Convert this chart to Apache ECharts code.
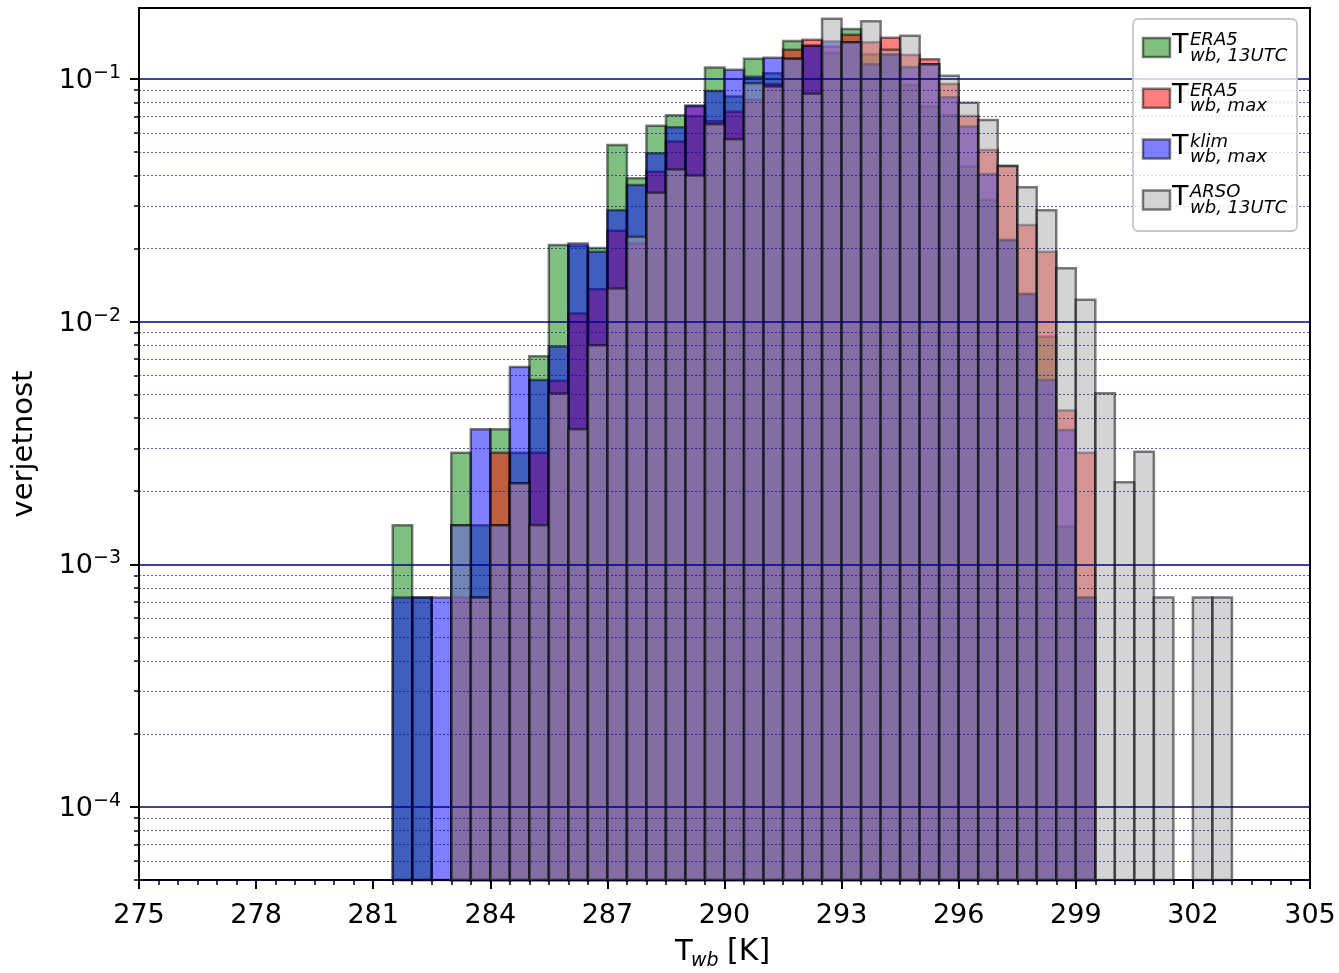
<!DOCTYPE html>
<html>
<head>
<meta charset="utf-8">
<script src="https://cdn.jsdelivr.net/npm/echarts@6/dist/echarts.min.js"></script>
<style>
  html, body { margin: 0; padding: 0; background: #fff; }
  #main { width: 1339px; height: 973px; }
</style>
</head>
<body>
<div id="main"></div>
<script>
// bin edges of the histogram [K], 0.5 K wide
var binEdges = [281.5, 282, 282.5, 283, 283.5, 284, 284.5, 285, 285.5, 286, 286.5,
    287, 287.5, 288, 288.5, 289, 289.5, 290, 290.5, 291, 291.5, 292, 292.5,
    293, 293.5, 294, 294.5, 295, 295.5, 296, 296.5, 297, 297.5, 298, 298.5,
    299, 299.5, 300, 300.5, 301, 301.5, 302, 302.5, 303];

// probability density per bin
var era5_13utc = [0.00145, 0.00073, 0, 0.00288, 0.00145, 0.0036, 0.00288, 0.0072, 0.0207, 0.0205, 0.0201,
    0.0534, 0.039, 0.0642, 0.0709, 0.0704, 0.1114, 0.0846, 0.121, 0.1055, 0.1435, 0.137, 0.128,
    0.1607, 0.1264, 0.126, 0.0945, 0.077, 0.071, 0.0436, 0.0317, 0.0217, 0.013, 0.00867, 0.00143,
    0.00073, 0, 0, 0, 0, 0, 0, 0];
var era5_max = [0, 0, 0, 0.00073, 0.00073, 0.00288, 0.00216, 0.00288, 0.0057, 0.0108, 0.0136,
    0.0237, 0.021, 0.0415, 0.0552, 0.0772, 0.067, 0.0733, 0.082, 0.095, 0.132, 0.145, 0.136,
    0.152, 0.1417, 0.148, 0.1256, 0.1205, 0.0954, 0.0704, 0.051, 0.0438, 0.025, 0.0194, 0.0043,
    0.00288, 0, 0, 0, 0, 0, 0, 0];
var klim_max = [0.00073, 0.00073, 0.00073, 0.00145, 0.0036, 0.00145, 0.0065, 0.00575, 0.0079, 0.021, 0.0194,
    0.0288, 0.0366, 0.0494, 0.0632, 0.0777, 0.0893, 0.109, 0.102, 0.1224, 0.121, 0.137, 0.1426,
    0.1417, 0.115, 0.126, 0.112, 0.115, 0.084, 0.0637, 0.0406, 0.0217, 0.013, 0.00575, 0.00358,
    0.00073, 0, 0, 0, 0, 0, 0, 0];
var arso_13utc = [0, 0, 0, 0.00145, 0.00073, 0.00145, 0.00216, 0.00145, 0.00505, 0.0036, 0.008,
    0.0137, 0.0224, 0.034, 0.0424, 0.040, 0.065, 0.0564, 0.096, 0.093, 0.121, 0.0868, 0.177,
    0.1417, 0.173, 0.132, 0.1507, 0.115, 0.103, 0.0798, 0.0678, 0.0438, 0.0358, 0.0288, 0.0166,
    0.0123, 0.00507, 0.00218, 0.00291, 0.00073, 0, 0.00073, 0.00073];

var xTicks = [275, 305, 3];
var yMajor = [-4, -3, -2, -1];   // log10 of 1e-4 .. 1e-1
var Y_MIN = Math.log10(5e-5);
var Y_MAX = -0.7076;

var legendSup = ['ERA5', 'ERA5', 'klim', 'ARSO'];
var legendSub = ['wb, 13UTC', 'wb, max', 'wb, max', 'wb, 13UTC'];
var colors = ['#008000', '#ff0000', '#0000ff', '#a9a9a9'];
var FONT = '"DejaVu Sans", sans-serif';

var yMinor = [];
for (var n = -5; n <= -1; n++) {
    for (var k = 2; k <= 9; k++) {
        var lv = Math.log10(k) + n;
        if (lv >= Y_MIN - 1e-9 && lv <= Y_MAX) yMinor.push(lv);
    }
}

function toData(vals) {
    var out = [];
    for (var i = 0; i < vals.length; i++) {
        if (vals[i] > 0) out.push([binEdges[i], binEdges[i + 1], Math.log10(vals[i])]);
    }
    return out;
}

function histSeries(name, vals, color) {
    return {
        name: name,
        type: 'custom',
        data: toData(vals),
        encode: {x: [0, 1], y: 2},
        renderItem: function (params, api) {
            var tl = api.coord([api.value(0), api.value(2)]);
            var br = api.coord([api.value(1), Y_MIN]);
            return {
                type: 'rect',
                shape: {x: tl[0], y: tl[1], width: br[0] - tl[0], height: br[1] - tl[1]},
                style: {fill: color, stroke: '#000', lineWidth: 2.5, opacity: 0.5}
            };
        }
    };
}

// legend box + x axis title built as text
var graphics = [{
    type: 'rect', z: 100,
    shape: {x: 1133, y: 19, width: 164, height: 212, r: 5},
    style: {fill: 'rgba(255,255,255,0.8)', stroke: '#c8c8c8', lineWidth: 1.8}
}];
for (var e = 0; e < 4; e++) {
    var dy = e * 50.8;
    graphics.push({
        type: 'rect', z: 101,
        shape: {x: 1143, y: 38 + dy, width: 27, height: 19},
        style: {fill: colors[e], stroke: '#000', lineWidth: 2.5, opacity: 0.5}
    });
    graphics.push({type: 'text', z: 101, x: 1172, y: 45.5 + dy,
        style: {text: 'T', font: '27px ' + FONT, fill: '#000', verticalAlign: 'middle'}});
    graphics.push({type: 'text', z: 101, x: 1190, y: 40.3 + dy,
        style: {text: legendSup[e], font: 'italic 18px ' + FONT, fill: '#000', verticalAlign: 'middle'}});
    graphics.push({type: 'text', z: 101, x: 1190, y: 56 + dy,
        style: {text: legendSub[e], font: 'italic 18px ' + FONT, fill: '#000', verticalAlign: 'middle'}});
}
graphics.push({type: 'text', x: 675, y: 952,
    style: {text: 'T', font: '29px ' + FONT, fill: '#000', verticalAlign: 'middle'}});
graphics.push({type: 'text', x: 691, y: 961,
    style: {text: 'wb', font: 'italic 19px ' + FONT, fill: '#000', verticalAlign: 'middle'}});
graphics.push({type: 'text', x: 727, y: 952,
    style: {text: '[K]', font: '30px ' + FONT, fill: '#000', verticalAlign: 'middle'}});

var myChart = echarts.init(document.getElementById('main'));
myChart.setOption({
    backgroundColor: '#fff',
    animation: false,
    grid: {
        left: 139, right: 29, top: 8, bottom: 93,
        show: true, borderColor: '#000', borderWidth: 2, backgroundColor: 'transparent'
    },
    xAxis: {
        type: 'value',
        min: xTicks[0], max: xTicks[1], interval: xTicks[2],
        axisLine: {onZero: false, lineStyle: {color: '#000', width: 2}},
        axisTick: {length: 9, lineStyle: {color: '#000', width: 2}},
        minorTick: {show: true, splitNumber: 6, length: 5, lineStyle: {color: '#000', width: 1.5}},
        axisLabel: {fontSize: 27, fontFamily: FONT, color: '#000', margin: 22},
        splitLine: {show: false}
    },
    yAxis: [{
        type: 'value',
        min: Y_MIN, max: Y_MAX,
        position: 'left',
        z: 10,
        name: 'verjetnost',
        nameLocation: 'middle',
        nameGap: 100,
        nameTextStyle: {fontSize: 29, fontFamily: FONT, color: '#000'},
        axisLine: {show: true, onZero: false, lineStyle: {color: '#000', width: 2}},
        axisTick: {show: true, length: 9, lineStyle: {color: '#000', width: 2}, customValues: yMajor},
        axisLabel: {
            customValues: yMajor,
            margin: 18,
            color: '#000',
            fontFamily: FONT,
            formatter: function (v) {
                return '{b|10}{s|\u2212' + Math.round(-v) + '}';
            },
            rich: {
                b: {fontSize: 27, fontFamily: FONT, color: '#000', padding: [4, 0, 0, 0]},
                s: {fontSize: 19, fontFamily: FONT, color: '#000', verticalAlign: 'top'}
            }
        },
        splitLine: {show: true, lineStyle: {color: '#00008b', width: 1.6}}
    }, {
        type: 'value',
        min: Y_MIN, max: Y_MAX,
        position: 'left',
        z: 9,
        axisLine: {show: false},
        axisTick: {show: true, length: 5, lineStyle: {color: '#000', width: 1.5}, customValues: yMinor},
        axisLabel: {show: false},
        splitLine: {show: true, lineStyle: {color: '#00008b', width: 0.8, type: [2, 2], opacity: 0.8}}
    }],
    graphic: graphics,
    series: [
        histSeries('ERA5 13UTC', era5_13utc, colors[0]),
        histSeries('ERA5 max', era5_max, colors[1]),
        histSeries('klim max', klim_max, colors[2]),
        histSeries('ARSO 13UTC', arso_13utc, colors[3])
    ]
});
</script>
</body>
</html>
